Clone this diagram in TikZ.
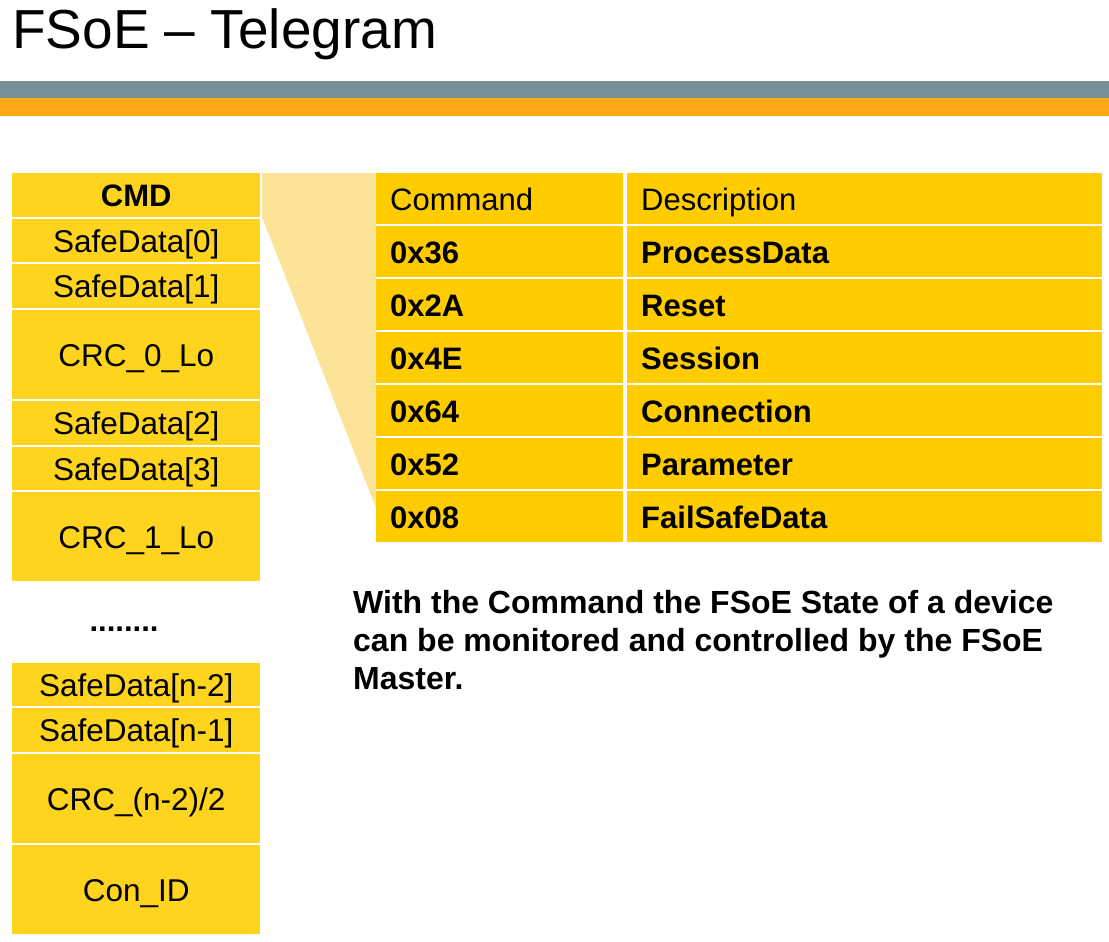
\documentclass[tikz,border=0pt]{standalone}
\usepackage{fontspec}
\setmainfont{Liberation Sans}
\definecolor{bandgrey}{HTML}{778F97}
\definecolor{bandorange}{HTML}{FDA814}
\definecolor{leftyellow}{HTML}{FFD41F}
\definecolor{tableyellow}{HTML}{FFCC00}
\definecolor{paleyellow}{HTML}{FDE398}
\tikzset{
  lcell/.style={fill=leftyellow, anchor=north west, minimum width=248pt,
    inner sep=0pt, text height=23pt, text depth=0pt,
    font=\fontsize{31.5}{36}\selectfont},
  tcell/.style={fill=tableyellow, anchor=north west, minimum height=51pt,
    inner xsep=14pt, inner ysep=0pt, text height=24pt, text depth=0pt,
    align=left, font=\fontsize{31}{36}\selectfont},
  cmdcol/.style={tcell, text width=219pt},
  desccol/.style={tcell, text width=447pt},
  boldcell/.style={font=\fontsize{31}{36}\selectfont\bfseries},
}
\begin{document}
\begin{tikzpicture}[x=1pt,y=-1pt]
\useasboundingbox (0,0) rectangle (1109,942);
% title and header bands
\node[anchor=base west, inner sep=0pt, font=\fontsize{55}{60}\selectfont] (title) at (12,49) {FSoE -- Telegram};
\fill[bandgrey] (0,81) rectangle (1109,98);
\fill[bandorange] (0,98) rectangle (1109,116);

% zoom wedge from CMD to the command table
\fill[paleyellow] (262,173) -- (376,173) -- (376,508) -- (262,217) -- cycle;

% telegram fields
\node[lcell, minimum height=44pt, font=\fontsize{31}{36}\selectfont\bfseries] (cmd) at (12,173) {CMD};
\node[lcell, minimum height=43pt] (sd0) at (12,219) {SafeData[0]};
\node[lcell, minimum height=44pt] (sd1) at (12,264) {SafeData[1]};
\node[lcell, minimum height=89pt] (crc0) at (12,310) {CRC\_0\_Lo};
\node[lcell, minimum height=44pt] (sd2) at (12,401) {SafeData[2]};
\node[lcell, minimum height=43pt] (sd3) at (12,447) {SafeData[3]};
\node[lcell, minimum height=89pt] (crc1) at (12,492) {CRC\_1\_Lo};
\node[anchor=base, inner sep=0pt, font=\fontsize{31}{36}\selectfont\bfseries] (dots) at (124,631) {........};
\node[lcell, minimum height=43pt] (sdn2) at (12,663) {SafeData[n-2]};
\node[lcell, minimum height=44pt] (sdn1) at (12,708) {SafeData[n-1]};
\node[lcell, minimum height=89pt] (crcn) at (12,754) {CRC\_(n-2)/2};
\node[lcell, minimum height=89pt] (conid) at (12,845) {Con\_ID};

% command table
\node[cmdcol] (h1) at (376,173) {Command};
\node[desccol] (h2) at (627,173) {Description};
\node[cmdcol, boldcell] (c1) at (376,226) {0x36};
\node[desccol, boldcell] (d1) at (627,226) {ProcessData};
\node[cmdcol, boldcell] (c2) at (376,279) {0x2A};
\node[desccol, boldcell] (d2) at (627,279) {Reset};
\node[cmdcol, boldcell] (c3) at (376,332) {0x4E};
\node[desccol, boldcell] (d3) at (627,332) {Session};
\node[cmdcol, boldcell] (c4) at (376,385) {0x64};
\node[desccol, boldcell] (d4) at (627,385) {Connection};
\node[cmdcol, boldcell] (c5) at (376,438) {0x52};
\node[desccol, boldcell] (d5) at (627,438) {Parameter};
\node[cmdcol, boldcell] (c6) at (376,491) {0x08};
\node[desccol, boldcell] (d6) at (627,491) {FailSafeData};

% explanation (anchored at the baseline of its last line)
\node[anchor=base west, inner sep=0pt, align=left, font=\fontsize{32}{38}\selectfont\bfseries] (note) at (353,689)
  {With the Command the FSoE State of a device\\can be monitored and controlled by the FSoE\\Master.};
\end{tikzpicture}
\end{document}
